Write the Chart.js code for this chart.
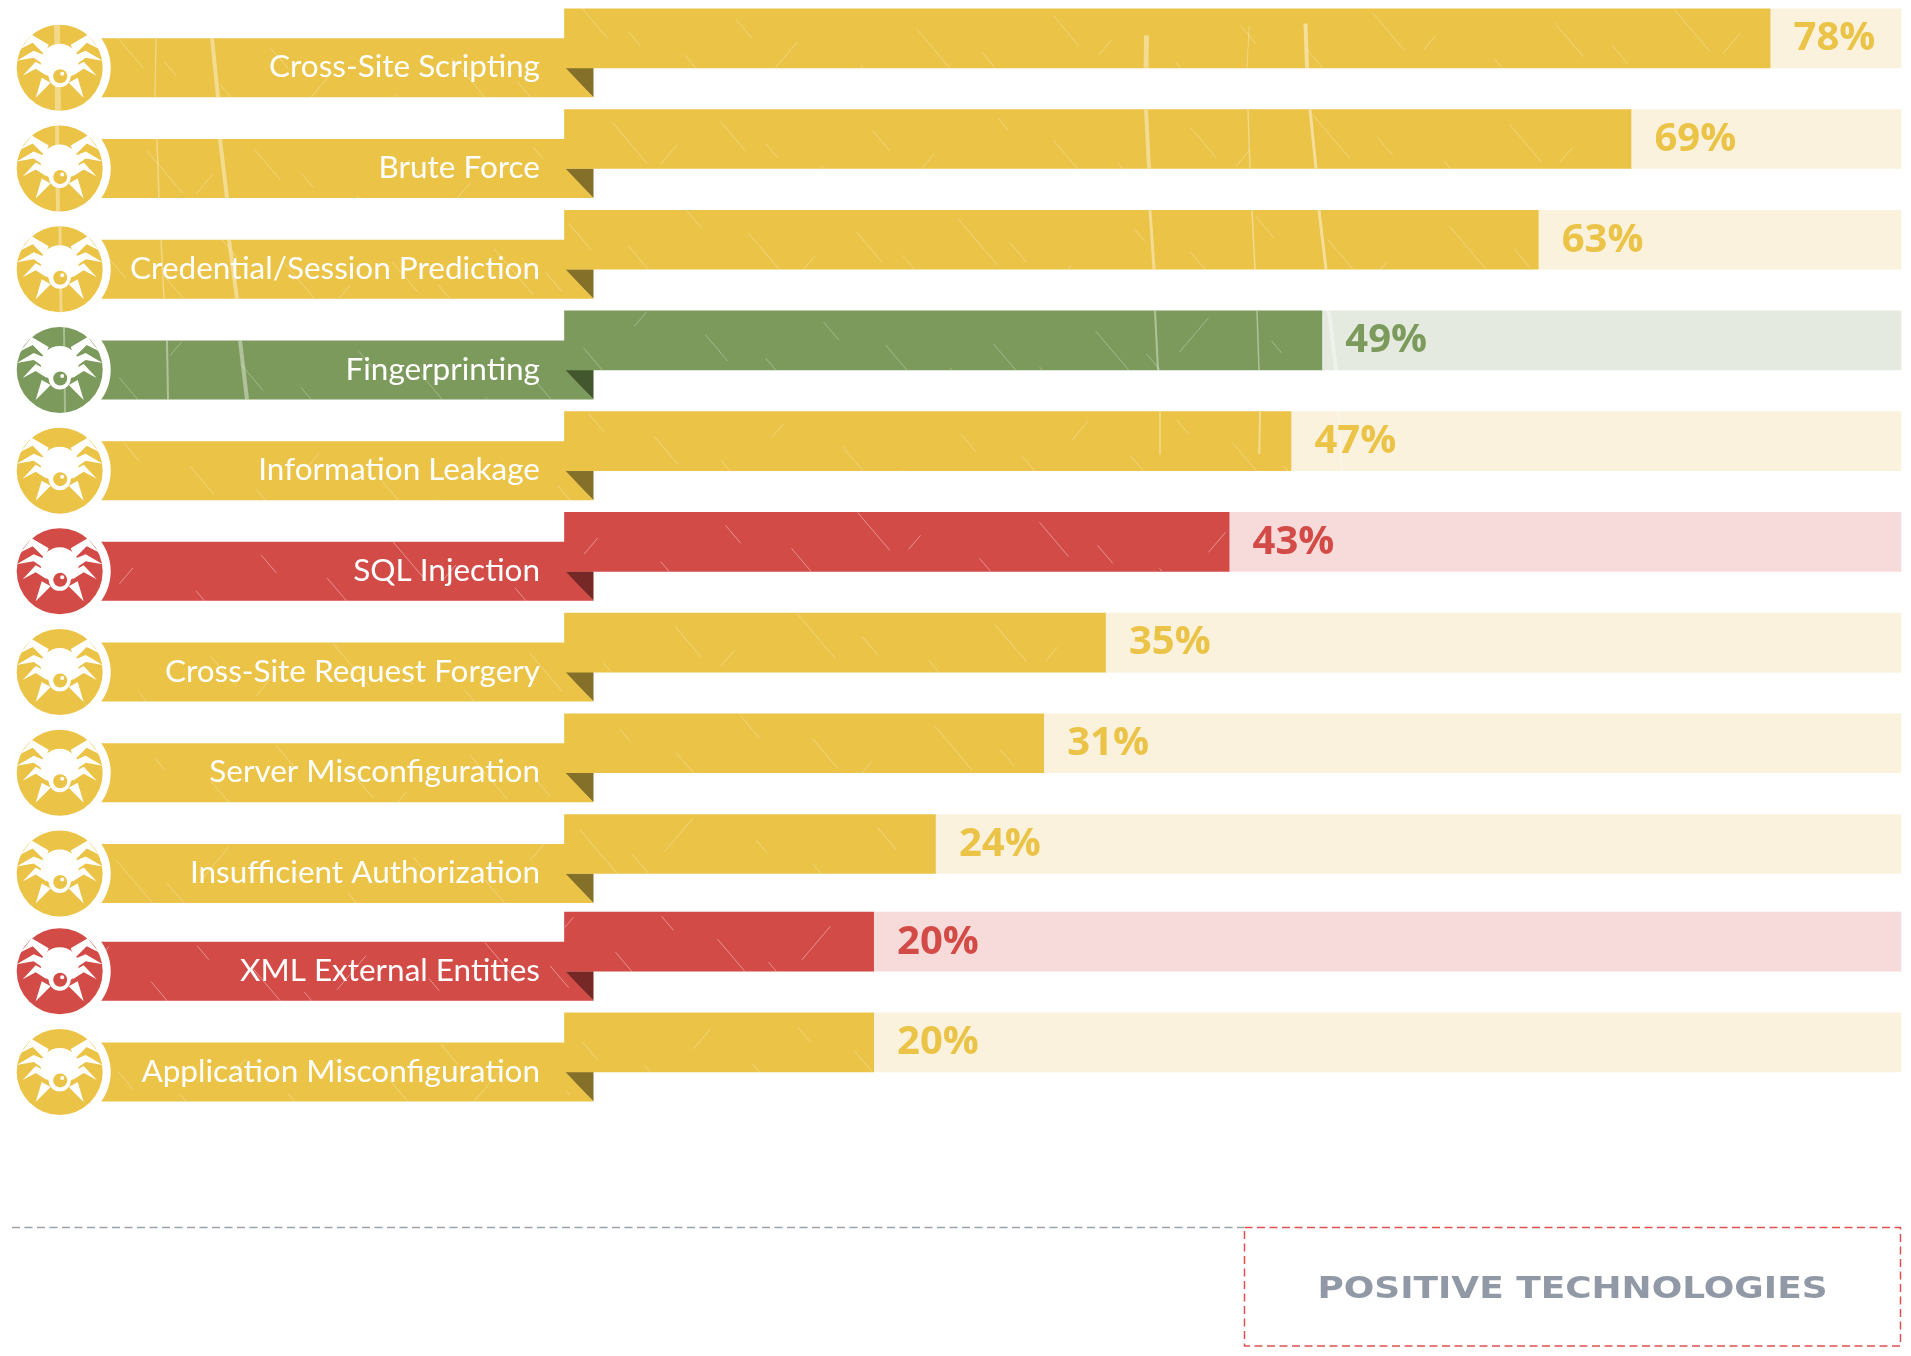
<!DOCTYPE html>
<html>
<head>
<meta charset="utf-8">
<style>
  html, body { margin: 0; padding: 0; background: #fff; }
  canvas { display: block; }
</style>
<script src="https://cdn.jsdelivr.net/npm/chart.js@4"></script>
</head>
<body>
<canvas id="vulnChart" width="1911" height="1356"></canvas>
<script>
// data
const categories = ['Cross-Site Scripting', 'Brute Force', 'Credential/Session Prediction', 'Fingerprinting',
    'Information Leakage', 'SQL Injection', 'Cross-Site Request Forgery', 'Server Misconfiguration',
    'Insufficient Authorization', 'XML External Entities', 'Application Misconfiguration'];
const shareValues = [78, 69, 63, 49, 47, 43, 35, 31, 24, 20, 20];
const severity = ['medium', 'medium', 'medium', 'low', 'medium', 'high', 'medium', 'medium', 'medium', 'high', 'medium'];
const axisMax = 86.47;
const footerText = 'POSITIVE TECHNOLOGIES';

const palette = {
    medium: { solid: '#EBC347', light: '#FAF2DC', fold: '#85702A' },
    low: { solid: '#7C9A5B', light: '#E4EADF', fold: '#43572F' },
    high: { solid: '#D34B46', light: '#F7DADA', fold: '#752826' }
};

const BAR_H = 59;
const ICON_X = 59.7;

// last two rows sit a little higher in the original
function rowNudge(i) { return i >= 9 ? 3 : 0; }

// long curved scratches through the top rows: [row, x at top, x at bottom, width, alpha, from, to]
const barScratches = [
    [0, 1147, 1146, 5, .4, .45, 1], [1, 1146, 1149, 4, .4, 0, 1], [2, 1150, 1154, 3, .4, 0, 1], [3, 1155, 1158, 2, .4, 0, 1], [4, 1160, 1160, 1.5, .4, 0, .72],
    [0, 1250, 1247, 1, .3, .3, 1], [1, 1248, 1250, 1.5, .35, 0, 1], [2, 1252, 1255, 1.5, .4, 0, 1], [3, 1257, 1259, 1.5, .4, 0, 1], [4, 1260, 1259, 2, .4, 0, .72],
    [0, 1305, 1307, 4, .45, .25, 1], [1, 1310, 1316, 3, .45, 0, 1], [2, 1319, 1326, 3, .45, 0, 1], [3, 1329, 1336, 4, .4, 0, 1], [4, 1338, 1342, 2, .3, 0, 1]
];
const bandScratches = [
    [0, 212, 218, 4, .4], [1, 220, 227, 4, .4], [2, 229, 237, 4, .4], [3, 240, 247, 4, .4],
    [0, 156, 155, 1.5, .3], [1, 157, 159, 1.5, .35], [2, 161, 164, 1.5, .35], [3, 167, 168, 2, .4]
];
// the same stripe carries on through the first bug icons: [row, x, width]
const iconScratches = [[0, 57, 6], [1, 57, 4], [2, 60, 3], [3, 64, 2]];
// short diagonals, repeated along every row: [offset in x, length]
const hairlines = [[18, 30], [64, 14], [120, 46], [171, 20], [233, 34], [296, 12], [352, 40], [417, 22], [489, 30], [548, 16], [611, 44], [676, 18], [742, 28], [808, 38], [871, 14], [930, 26], [990, 34], [1048, 18], [1110, 42], [1176, 20]];

function strokeScratch(ctx, x0, y0, x1, y1, width, alpha) {
    ctx.strokeStyle = 'rgba(255,255,255,' + alpha + ')';
    ctx.lineWidth = width;
    ctx.beginPath();
    ctx.moveTo(x0, y0);
    ctx.lineTo(x1, y1);
    ctx.stroke();
}

function drawHairlines(ctx, left, top, width, row) {
    ctx.save();
    ctx.beginPath();
    ctx.rect(left, top, width, BAR_H);
    ctx.clip();
    hairlines.forEach(function (h, n) {
        const off = (h[0] + row * 137) % 1200;
        if (off > width) return;
        const y = top + (n * 23 + row * 11) % BAR_H;
        const dir = n % 5 === 4 ? -1 : 1; // a few of them lean the other way
        strokeScratch(ctx, left + off, y, left + off + dir * h[1] * .85, y + h[1], 1, severity[row] === 'high' ? .4 : .3);
    });
    ctx.restore();
}

// one side of the bug, mirrored with side = -1 / 1
function drawLegs(ctx, cx, cy, side) {
    const legs = [
        [[-39, -19], [-28, -33], [-11, -23], [-15, -13], [-27, -25]],
        [[-43, -7], [-26, -17], [-14, -12], [-16, -3], [-26, -10]],
        [[-37, 8], [-24, -6], [-15, -1], [-13, 8], [-24, 1]],
        [[-24, 30], [-18, 10], [-9, 15]]
    ];
    legs.forEach(function (leg) {
        ctx.beginPath();
        leg.forEach(function (p, n) {
            const px = cx + p[0] * side * -1;
            if (n === 0) ctx.moveTo(px, cy + p[1]); else ctx.lineTo(px, cy + p[1]);
        });
        ctx.closePath();
        ctx.fill();
    });
}

function drawBug(ctx, cy, colour, row) {
    ctx.fillStyle = '#fff';
    ctx.beginPath();
    ctx.arc(ICON_X, cy, 51, 0, Math.PI * 2);
    ctx.fill();
    ctx.fillStyle = colour;
    ctx.beginPath();
    ctx.arc(ICON_X, cy, 43, 0, Math.PI * 2);
    ctx.fill();

    ctx.save();
    ctx.clip();
    iconScratches.forEach(function (s) {
        if (s[0] === row) strokeScratch(ctx, s[1], cy - 43, s[1] + 1, cy + 43, s[2], .35);
    });
    ctx.restore();

    ctx.fillStyle = '#fff';
    drawLegs(ctx, ICON_X, cy, 1);
    drawLegs(ctx, ICON_X, cy, -1);
    ctx.beginPath();
    ctx.ellipse(ICON_X, cy - 6, 19, 18, 0, 0, Math.PI * 2);
    ctx.fill();
    ctx.beginPath();
    ctx.arc(ICON_X, cy + 8.5, 11, 0, Math.PI * 2);
    ctx.fill();

    ctx.fillStyle = colour;
    ctx.beginPath();
    ctx.arc(ICON_X + .5, cy + 8.5, 7, 0, Math.PI * 2);
    ctx.fill();
    ctx.fillStyle = '#fff';
    ctx.beginPath();
    ctx.arc(ICON_X + 2.5, cy + 6, 2, 0, Math.PI * 2);
    ctx.fill();
}

// ribbon under each bar, fold, bug icon and the name of the row
const ribbonPlugin = {
    id: 'ribbon',
    beforeDatasetsDraw: function (chart) {
        const ctx = chart.ctx;
        const left = chart.chartArea.left;
        const bars = chart.getDatasetMeta(0).data;
        ctx.save();
        categories.forEach(function (name, i) {
            const c = palette[severity[i]];
            const barBottom = bars[i].y + BAR_H / 2;
            const top = barBottom - BAR_H / 2;
            const bottom = top + BAR_H;

            ctx.fillStyle = c.fold;
            ctx.beginPath();
            ctx.moveTo(left - 1, barBottom);
            ctx.lineTo(left + 29, barBottom);
            ctx.lineTo(left + 29, bottom);
            ctx.closePath();
            ctx.fill();

            ctx.fillStyle = c.solid;
            ctx.beginPath();
            ctx.moveTo(96, top);
            ctx.lineTo(left + 1, top);
            ctx.lineTo(left + 1, barBottom);
            ctx.lineTo(left + 29, bottom);
            ctx.lineTo(96, bottom);
            ctx.closePath();
            ctx.fill();

            ctx.save();
            ctx.clip();
            drawHairlines(ctx, 100, top, 470, i);
            bandScratches.forEach(function (s) {
                if (s[0] === i) strokeScratch(ctx, s[1], top, s[2], bottom, s[3], s[4]);
            });
            ctx.restore();

            drawBug(ctx, top + BAR_H / 2, c.solid, i);
        });
        ctx.restore();
    },
    afterDatasetsDraw: function (chart) {
        const ctx = chart.ctx;
        const x = chart.scales.x;
        const bars = chart.getDatasetMeta(0).data;
        ctx.save();
        categories.forEach(function (name, i) {
            const c = palette[severity[i]];
            const top = bars[i].y - BAR_H / 2;
            const end = x.getPixelForValue(shareValues[i]);

            drawHairlines(ctx, x.left, top, end - x.left, i);
            barScratches.forEach(function (s) {
                if (s[0] !== i) return;
                const dx = s[2] - s[1];
                strokeScratch(ctx, s[1] + dx * s[5], top + BAR_H * s[5], s[1] + dx * s[6], top + BAR_H * s[6], s[3], s[4]);
            });

            ctx.textBaseline = 'alphabetic';
            ctx.textAlign = 'right';
            ctx.fillStyle = '#fff';
            ctx.font = '400 31.5px Lato';
            ctx.fillText(name, 540, top + 68.6);

            ctx.textAlign = 'left';
            ctx.fillStyle = c.solid;
            ctx.font = 'bold 40px "Open Sans"';
            ctx.fillText(shareValues[i] + '%', end + 23.5, top + 41.4);
        });

        // footer
        ctx.lineWidth = 1.5;
        ctx.setLineDash([8, 4.5]);
        ctx.strokeStyle = '#9CA2AC';
        ctx.beginPath();
        ctx.moveTo(12, 1227.5);
        ctx.lineTo(1244, 1227.5);
        ctx.stroke();
        ctx.strokeStyle = '#E0504F';
        ctx.strokeRect(1244.5, 1227.5, 656, 118.5);
        ctx.setLineDash([]);

        // the logo type is wider than any installed font
        ctx.fillStyle = '#9099A5';
        ctx.font = 'bold 30px "DejaVu Sans"';
        ctx.textAlign = 'center';
        ctx.translate(1572.5, 1298);
        ctx.scale(1.197, 1);
        ctx.fillText(footerText, 0, 0);
        ctx.restore();
    }
};

// the last rows are closer together than a category axis can space them
const rowOffsetPlugin = {
    id: 'rowOffset',
    afterDatasetsUpdate: function (chart) {
        chart.data.datasets.forEach(function (ds, d) {
            chart.getDatasetMeta(d).data.forEach(function (bar, i) {
                bar.y -= rowNudge(i);
            });
        });
    }
};

new Chart(document.getElementById('vulnChart').getContext('2d'), {
    type: 'bar',
    data: {
        labels: categories,
        datasets: [
            {
                label: 'Share of web applications',
                data: shareValues,
                backgroundColor: severity.map(function (s) { return palette[s].solid; }),
                barThickness: BAR_H,
                clip: false
            },
            {
                label: 'Rest',
                data: shareValues.map(function (v) { return axisMax - v; }),
                backgroundColor: severity.map(function (s) { return palette[s].light; }),
                barThickness: BAR_H,
                clip: false
            }
        ]
    },
    options: {
        indexAxis: 'y',
        responsive: false,
        animation: false,
        events: [],
        layout: { padding: { left: 564.5, right: 10, top: 38.3, bottom: 310.6 } },
        plugins: { legend: { display: false }, tooltip: { enabled: false } },
        scales: {
            x: { display: false, stacked: true, min: 0, max: axisMax },
            y: { display: false, stacked: true, offset: false }
        }
    },
    plugins: [rowOffsetPlugin, ribbonPlugin]
});
</script>
</body>
</html>
